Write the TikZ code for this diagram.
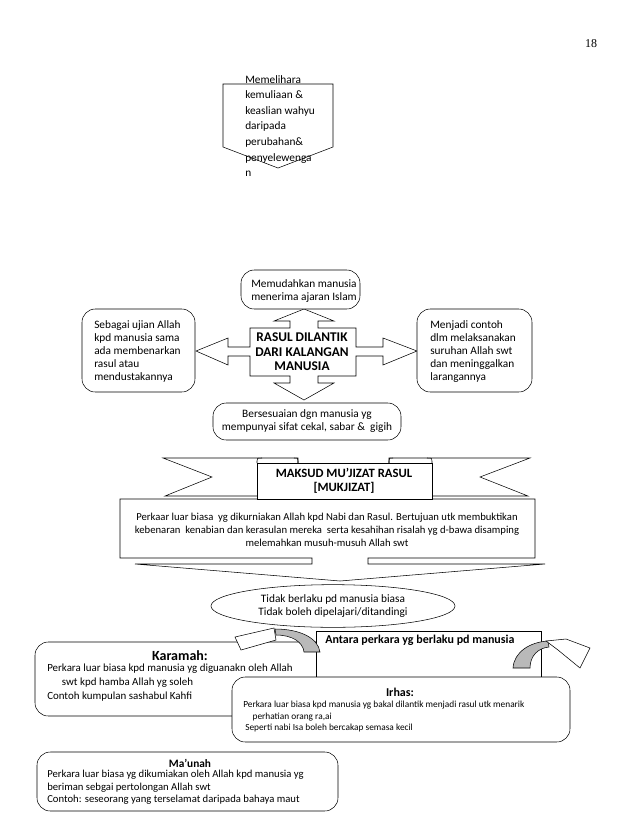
\documentclass[tikz,border=0pt]{standalone}
\usepackage{fontspec}
\setmainfont{Carlito}
\newfontfamily\pagefont{Liberation Serif}
\usetikzlibrary{shapes.geometric}

\tikzset{
  txt/.style={inner sep=0pt,align=left,font=\fontsize{8.5}{9.8}\selectfont},
  ctxt/.style={inner sep=0pt,align=center,font=\fontsize{8}{9.8}\selectfont},
  small/.style={inner sep=0pt,align=left,font=\fontsize{7}{8.6}\selectfont},
  heavy/.style={inner sep=0pt,align=center,font=\fontsize{9.5}{10.8}\bfseries\selectfont},
  rbox/.style={draw,fill=white,rounded corners=10pt},
  band/.style={draw,fill=gray!55},
}

\begin{document}
\begin{tikzpicture}[x=0.75pt,y=-0.75pt]
\useasboundingbox (0,0) rectangle (638,826);
\node[font=\pagefont\fontsize{9}{10}\selectfont] (pg) at (591,44) {18};

%top pentagon
\draw (223,84) -- (333,84) -- (333,147) -- (278,168) -- (223,147) -- cycle;
\node[txt,anchor=north west,font=\fontsize{8.5}{11.7}\selectfont] (jaga) at (245,75)
  {Memelihara\\kemuliaan \&\\keaslian wahyu\\daripada\\perubahan\&\\penyelewenga\\n};

%four way arrow
\draw[fill=white] (250,328) -- (290,328) -- (290,321) -- (274,321) -- (304,309) -- (334,321)
  -- (318,321) -- (318,328) -- (356,328) -- (356,347) -- (383,347) -- (383,338) -- (417,351)
  -- (383,365) -- (383,356) -- (356,356) -- (356,376) -- (318,376) -- (318,383) -- (334,383)
  -- (304,400) -- (274,383) -- (290,383) -- (290,376) -- (250,376) -- (250,356) -- (228,356)
  -- (228,365) -- (196,351) -- (228,338) -- (228,347) -- (250,347) -- cycle;
\node[heavy,font=\fontsize{10}{10.8}\bfseries\selectfont] (rasul) at (302,352)
  {RASUL DILANTIK\\DARI KALANGAN\\MANUSIA};

\draw[rbox] (241,270) rectangle (360,309);
\node[txt,anchor=north west] (mudah) at (251,279) {Memudahkan manusia\\menerima ajaran Islam};
\draw[rbox] (82,309) rectangle (195,392);
\node[txt,anchor=north west] (ujian) at (94,320)
  {Sebagai ujian Allah\\kpd manusia sama\\ada membenarkan\\rasul atau\\mendustakannya};
\draw[rbox] (417,309) rectangle (532,392);
\node[txt,anchor=north west] (contoh) at (430,320)
  {Menjadi contoh\\dlm melaksanakan\\suruhan Allah swt\\dan meninggalkan\\larangannya};
\draw[rbox] (213,403) rectangle (401,440);
\node[ctxt,font=\fontsize{8.5}{9.8}\selectfont] (sesuai) at (307,421)
  {Bersesuaian dgn manusia yg\\mempunyai sifat cekal, sabar \&\ \ gigih};

%down arrow callout
\draw[fill=white] (120,499) -- (535,499) -- (535,558) -- (368,558) -- (368,564) -- (545,564)
  -- (340,581) -- (135,564) -- (312,564) -- (312,558) -- (120,558) -- cycle;
\node[ctxt] (maksud) at (327,530)
  {Perkaar luar biasa\ \ yg dikurniakan Allah kpd Nabi dan Rasul. Bertujuan utk membuktikan\\
   kebenaran\ \ kenabian dan kerasulan mereka\ \ serta kesahihan risalah yg d-bawa disamping\\
   melemahkan musuh-musuh Allah swt};

%ribbon
\draw[fill=white] (163,458) -- (298,458) -- (298,496) -- (165,496) -- (212,477) -- cycle;
\draw[fill=white] (530,458) -- (389,458) -- (389,496) -- (528,496) -- (480,477) -- cycle;
\draw[fill=white] (257,463) rectangle (432,499);
\draw (257,463) -- (257,461) .. controls (257,458) .. (262,458);
\draw (294,458) .. controls (298,458) .. (298,461) -- (298,463);
\draw (432,463) -- (432,461) .. controls (432,458) .. (427,458);
\draw (393,458) .. controls (389,458) .. (389,461) -- (389,463);
\node[heavy] (judul) at (344,481) {MAKSUD MU'JIZAT RASUL\\{}[MUKJIZAT]};

\node[draw,ellipse,minimum width=183pt,minimum height=32pt,ctxt,font=\fontsize{8.5}{9.8}\selectfont]
  (tidak) at (333,606) {Tidak berlaku pd manusia biasa\\Tidak boleh dipelajari/ditandingi};

%karamah, antara
\draw[rbox] (35,642) rectangle (330,716);
\node[heavy,font=\fontsize{10.5}{11}\bfseries\selectfont] (karamah) at (180,656) {Karamah:};
\node[txt,anchor=north west,font=\fontsize{8.2}{10.4}\selectfont] (karamahT) at (47,664)
  {Perkara luar biasa kpd manusia yg diguanakn oleh Allah\\
   \hspace*{11pt}swt kpd hamba Allah yg soleh\\Contoh kumpulan sashabul Kahfi};
\draw[fill=white] (316,631) rectangle (541,700);
\node[heavy,font=\fontsize{9}{10}\bfseries\selectfont,anchor=west] (antara) at (325,640)
  {Antara perkara yg berlaku pd manusia};

%curved arrows
\draw[band] (320,652) .. controls (318,638) and (300,629) .. (275,629)
  -- (276,635) .. controls (292,635) and (303,642) .. (304,652) -- cycle;
\draw[fill=white] (235,637) -- (274,628) -- (276,640) -- (241,650) -- cycle;
\draw[band] (513,668) .. controls (514,652) and (530,642) .. (548,641)
  -- (549,647) .. controls (538,648) and (530,656) .. (530,668) -- cycle;
\draw[fill=white] (546,641) -- (566,639) -- (590,648) -- (580,668) -- (558,650) -- cycle;

%irhas
\draw[rbox] (232,677) rectangle (570,742);
\node[heavy,font=\fontsize{9}{10}\bfseries\selectfont] (irhas) at (400,692) {Irhas:};
\node[small,anchor=north west] (irhasT) at (243,701)
  {Perkara luar biasa kpd manusia yg bakal dilantik menjadi rasul utk menarik\\
   \hspace*{7pt}perhatian orang ra,ai\\\hspace*{1.5pt}Seperti nabi Isa boleh bercakap semasa kecil};

%ma'unah
\draw[rbox] (37,752) rectangle (338,811);
\node[heavy,font=\fontsize{8.5}{10}\bfseries\selectfont] (maunah) at (190,763) {Ma'unah};
\node[txt,anchor=north west,font=\fontsize{8}{9.4}\selectfont] (maunahT) at (47,770)
  {Perkara luar biasa yg dikumiakan oleh Allah kpd manusia yg\\
   beriman sebgai pertolongan Allah swt\\Contoh: seseorang yang terselamat daripada bahaya maut};
\end{tikzpicture}
\end{document}
